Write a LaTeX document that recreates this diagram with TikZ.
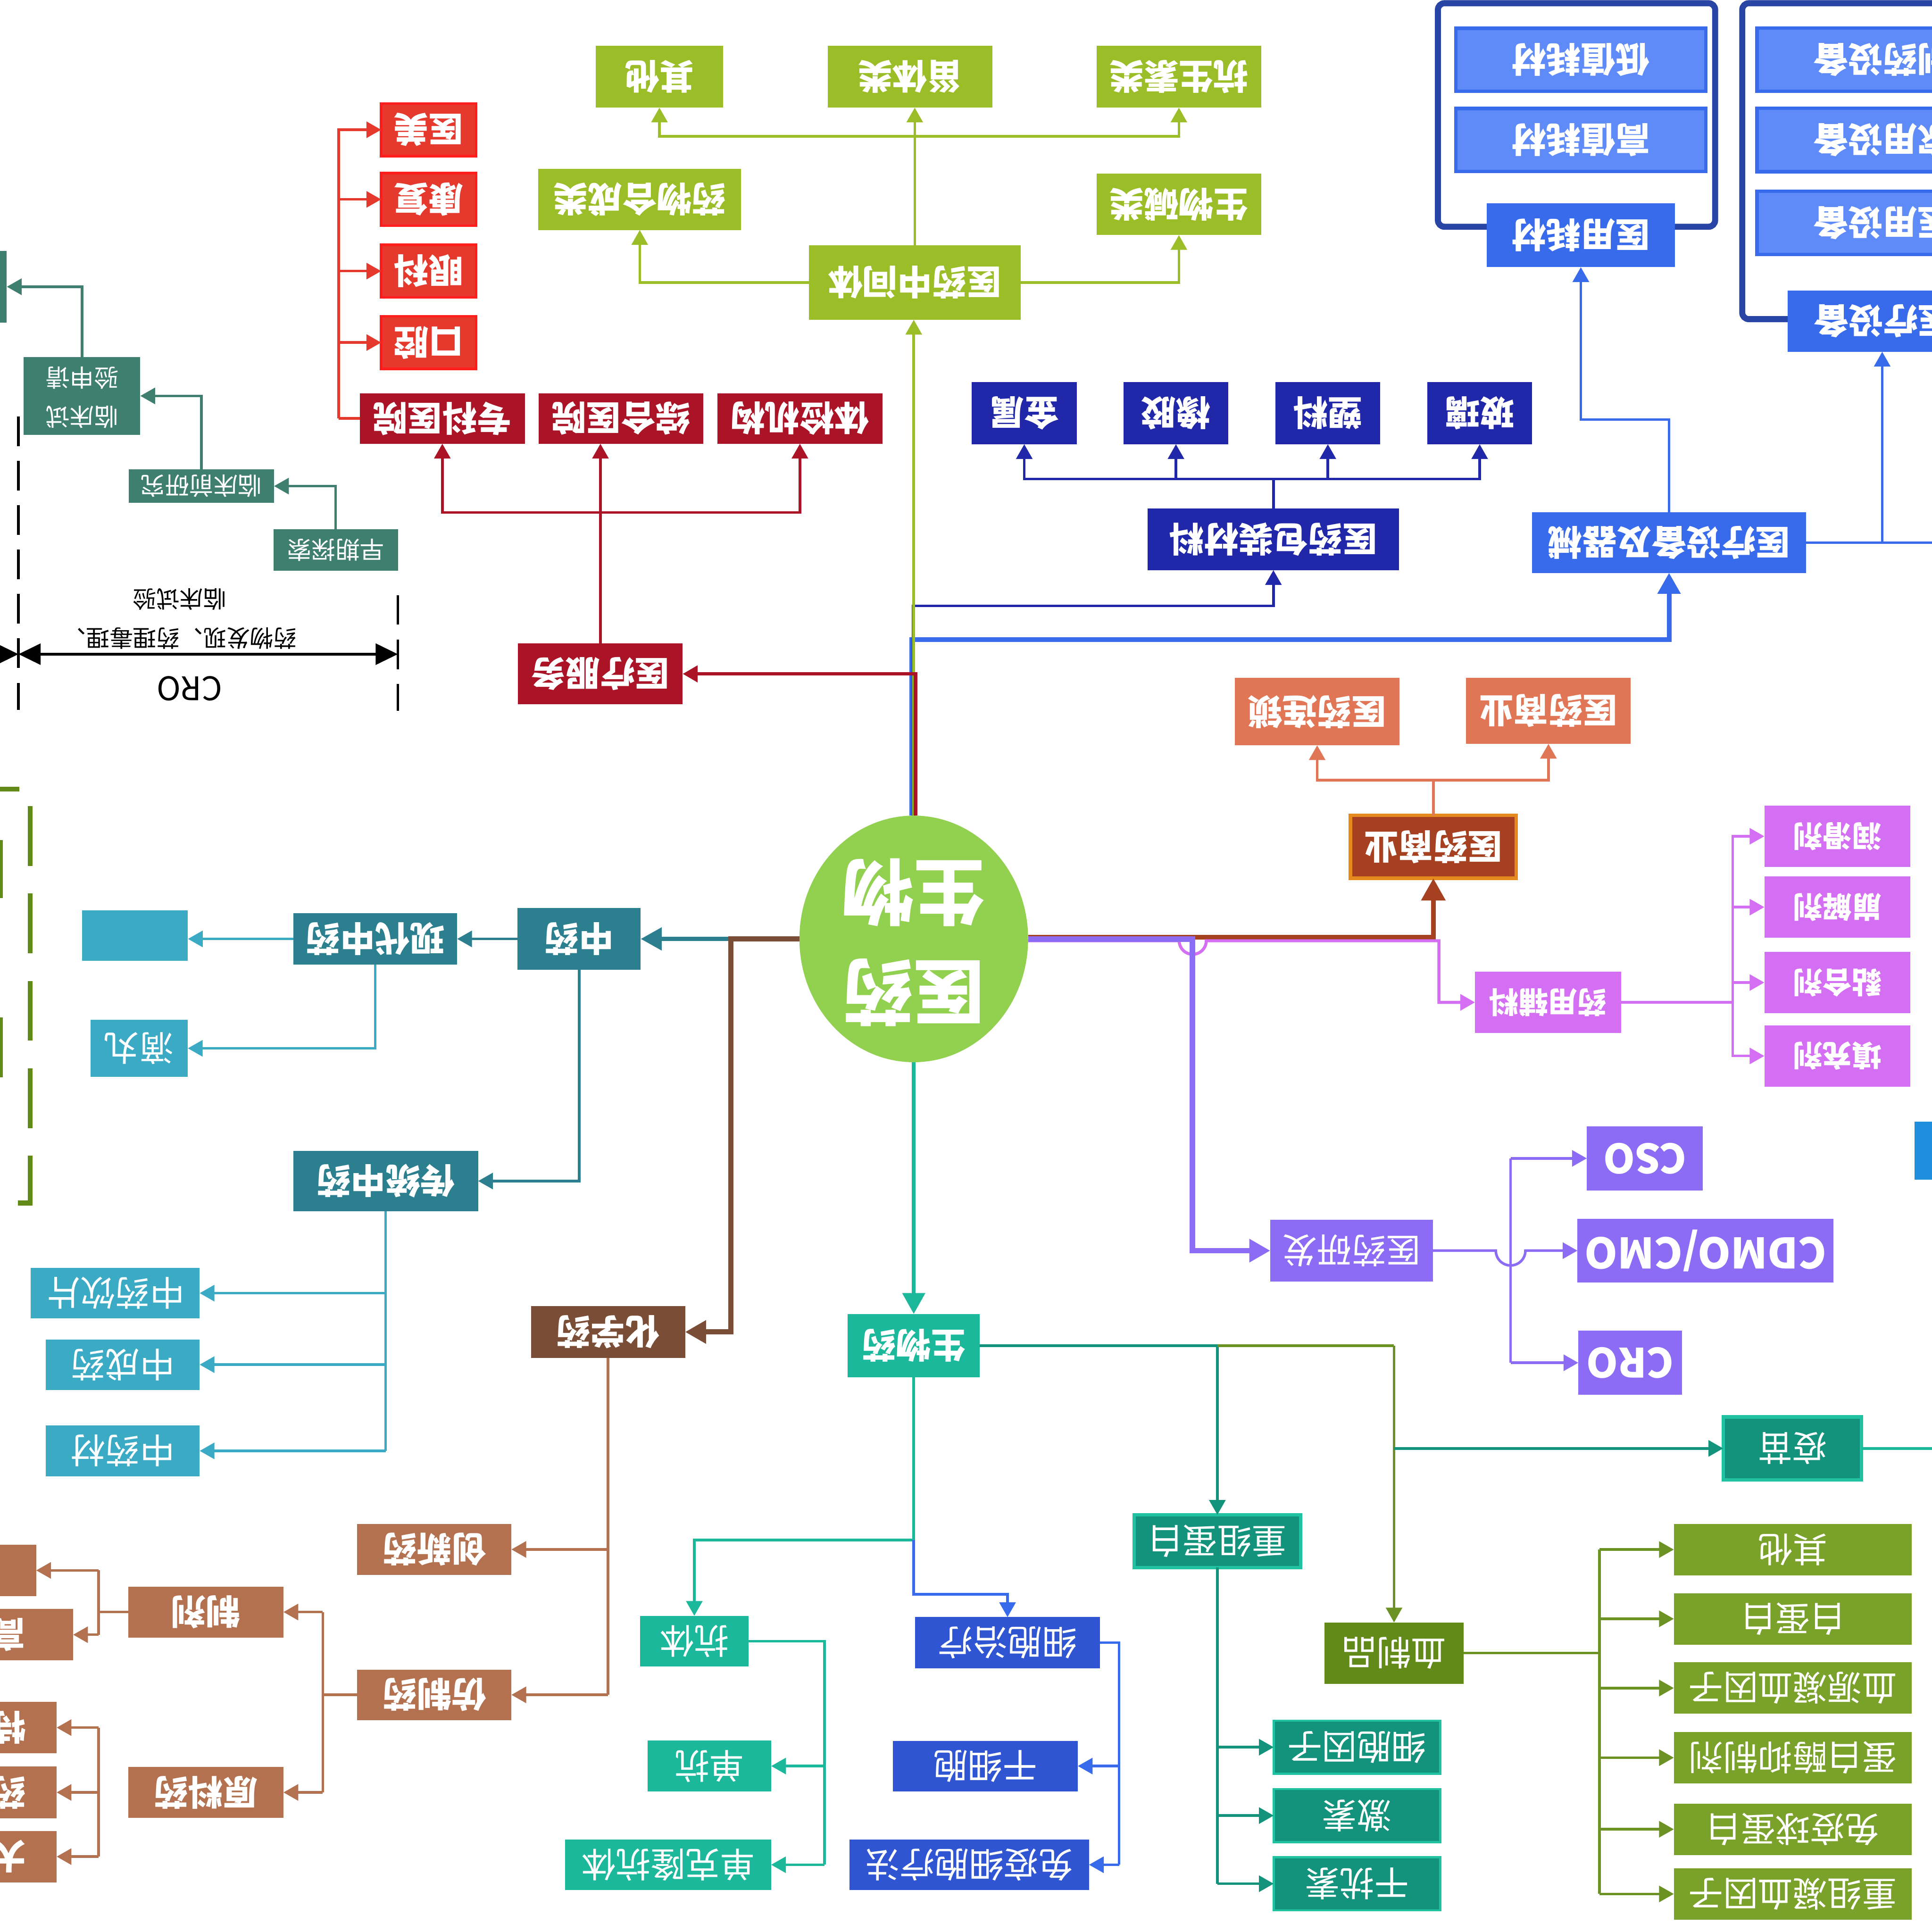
\documentclass[tikz,border=0pt]{standalone}
\usepackage{fontspec}
\setmainfont{Noto Sans CJK SC}
\usepackage{graphicx}
\usetikzlibrary{arrows.meta,shapes.geometric}

% branch colours
\definecolor{ctrgreen}{HTML}{92D050}
\definecolor{midgreen}{HTML}{9BBD28}
\definecolor{svcred}{HTML}{AB1326}
\definecolor{hospred}{HTML}{E5392D}
\definecolor{hospedge}{HTML}{FF1E1E}
\definecolor{packnavy}{HTML}{2127A9}
\definecolor{devblue}{HTML}{386BEB}
\definecolor{devlight}{HTML}{5E8BF7}
\definecolor{devframe}{HTML}{2845A5}
\definecolor{combrick}{HTML}{A54020}
\definecolor{comedge}{HTML}{E48A1E}
\definecolor{comsalmon}{HTML}{E17656}
\definecolor{excviolet}{HTML}{D46FF4}
\definecolor{rdpurple}{HTML}{8D6CF5}
\definecolor{edgeblue}{HTML}{1E8EDD}
\definecolor{bioteal}{HTML}{1BB89B}
\definecolor{biodark}{HTML}{13937B}
\definecolor{bioedge}{HTML}{20C2A2}
\definecolor{bloodolive}{HTML}{618A18}
\definecolor{bloodline}{HTML}{6B9222}
\definecolor{bloodlight}{HTML}{7AA12A}
\definecolor{cellblue}{HTML}{3055D2}
\definecolor{chembrown}{HTML}{7A4D36}
\definecolor{chemtan}{HTML}{B37150}
\definecolor{tcmpetrol}{HTML}{2B7F8E}
\definecolor{tcmcyan}{HTML}{3AAAC5}
\definecolor{crogreen}{HTML}{3F7F6F}

% the whole chart is shown turned upside down
\newcommand{\flip}[1]{\rotatebox[origin=c]{180}{#1}}

\tikzset{
  box/.style={rectangle, inner sep=0pt, outer sep=0pt, text=white,
    font=\bfseries\fontsize{8}{9}\selectfont},
  lite/.style={font=\fontsize{8}{9}\selectfont},
  small/.style={font=\fontsize{5.6}{9}\selectfont},
  sz/.style 2 args={minimum width=#1cm, minimum height=#2cm},
  link/.style={line width=0.6pt},
  tip/.style={-{Triangle[length=0.12cm,width=0.13cm]}},
  bigtip/.style={-{Triangle[length=0.17cm,width=0.18cm]}},
  dimdash/.style={line width=0.6pt, dash pattern=on 0.24cm off 0.12cm},
  dimhead/.tip={Triangle[length=0.18cm,width=0.17cm]},
}

\begin{document}
\begin{tikzpicture}[x=0.01cm, y=0.01cm]
  \useasboundingbox (0,0) rectangle (1568,-1568);
  \clip (0,0) rectangle (1568,-1568);

  % frames behind the device boxes
  \draw[devframe, line width=1.4pt, rounded corners=1.5pt] (1167,-2.6) rectangle (1392,-184);
  \draw[devframe, line width=1.4pt, rounded corners=1.5pt] (1414,-2.6) rectangle (1700,-259);

  % dashed frame at the left edge
  \draw[bloodolive, line width=1.15pt, dash pattern=on 0.485cm off 0.224cm]
    (24.5,-654.2) -- (24.5,-976.4) -- (-100,-976.4);
  \draw[bloodolive, line width=1.15pt, dash pattern=on 0.485cm off 0.224cm, dash phase=0.485cm]
    (24.5,-654.2) -- (24.5,-640.5) -- (-100,-640.5);
  \node[box, fill=bloodolive, sz={0.8}{0.472}] (olive1) at (-37.6,-705.2) {};
  \node[box, fill=bloodolive, sz={0.8}{0.485}] (olive2) at (-37.6,-850.1) {};

  % centre
  \node[ellipse, fill=ctrgreen, minimum width=1.855cm, minimum height=2.0cm, inner sep=0pt,
    outer sep=0pt] (ctr) at (741.6,-762) {};
  \node[text=white, inner sep=0pt, font=\bfseries\fontsize{16.5}{23}\selectfont] (ctrtext)
    at (741.6,-759) {\flip{\begin{tabular}{@{}c@{}}医药\\生物\end{tabular}}};

  % intermediates
  \node[box, fill=midgreen, sz={1.72}{0.606}] (mid) at (742.4,-229.2) {\flip{医药中间体}};
  \node[box, fill=midgreen, sz={1.645}{0.497}] (synth) at (519.2,-161.8) {\flip{药物合成类}};
  \node[box, fill=midgreen, sz={1.335}{0.499}] (alk) at (956.8,-165.8) {\flip{生物碱类}};
  \node[box, fill=midgreen, sz={1.03}{0.502}] (other) at (535.2,-62.2) {\flip{其他}};
  \node[box, fill=midgreen, sz={1.335}{0.502}] (ster) at (738.5,-62.2) {\flip{甾体类}};
  \node[box, fill=midgreen, sz={1.335}{0.502}] (antib) at (956.8,-62.2) {\flip{抗生素类}};
  \coordinate (midj) at (742.4,-110.7);
  \draw[midgreen, link, tip] (mid.west) -| (synth.south);
  \draw[midgreen, link, tip] (mid.east) -| (alk.south);
  \draw[midgreen, link, tip] (mid.north) -- (mid.north |- ster.south);
  \draw[midgreen, link, tip] (midj) -| (other.south);
  \draw[midgreen, link, tip] (midj) -| (antib.south);

  % medical services
  \node[box, fill=svcred, sz={1.335}{0.495}] (svc) at (487.3,-546.9) {\flip{医疗服务}};
  \node[box, fill=svcred, sz={1.34}{0.41}] (spec) at (359,-339.6) {\flip{专科医院}};
  \node[box, fill=svcred, sz={1.335}{0.41}] (genh) at (504.1,-339.6) {\flip{综合医院}};
  \node[box, fill=svcred, sz={1.34}{0.41}] (check) at (649.2,-339.6) {\flip{体检机构}};
  \coordinate (svcj) at (487.3,-415.9);
  \draw[svcred, link] (svc.north) -- (svcj);
  \draw[svcred, link, tip] (svcj) -| (spec.south);
  \draw[svcred, link, tip] (svcj) -- (svcj |- genh.south);
  \draw[svcred, link, tip] (svcj) -| (check.south);
  \foreach \n/\t/\y in {aes/医美/105.3, rehab/康复/161.8, eye/眼科/220, oral/口腔/278}
    \node[box, fill=hospred, draw=hospedge, line width=0.6pt, sz={0.77}{0.426}] (\n) at (347.9,-\y) {\flip{\t}};
  \coordinate (specj) at ([xshift=-0.17cm]spec.west);
  \draw[hospred, link] (spec.west) -- (specj);
  \foreach \n in {aes,rehab,eye,oral}
    \draw[hospred, link, tip] (specj) |- (\n.west);

  % packaging
  \node[box, fill=packnavy, sz={2.04}{0.50}] (pack) at (1033.5,-437.7) {\flip{医药包装材料}};
  \foreach \n/\t/\x in {metal/金属/831.3, rubber/橡胶/954.4, plastic/塑料/1077.7, glass/玻璃/1200.9}
    \node[box, fill=packnavy, sz={0.85}{0.504}] (\n) at (\x,-335.3) {\flip{\t}};
  \coordinate (packj) at ([yshift=0.24cm]pack.north);
  \draw[packnavy, link] (pack.north) -- (packj);
  \foreach \n in {metal,rubber,plastic,glass}
    \draw[packnavy, link, tip] (packj) -| (\n.south);

  % devices
  \node[box, fill=devblue, sz={2.22}{0.49}] (dev) at (1354.6,-440.4) {\flip{医疗设备及器械}};
  \node[box, fill=devblue, sz={1.525}{0.52}] (cons) at (1283,-190.8) {\flip{医用耗材}};
  \node[box, fill=devlight, draw=devblue, line width=0.8pt, sz={2.03}{0.51}] (lowc) at (1283,-48.5) {\flip{低值耗材}};
  \node[box, fill=devlight, draw=devblue, line width=0.8pt, sz={2.03}{0.51}] (highc) at (1283,-113.6) {\flip{高值耗材}};
  \node[box, fill=devblue, sz={1.55}{0.495}] (equip) at (1528.5,-260.7) {\flip{医疗设备}};
  \foreach \n/\t/\y in {pharm/制药设备/48.5, home/家用设备/113.6, hosp/医用设备/180.9}
    \node[box, fill=devlight, draw=devblue, line width=0.8pt, sz={2.04}{0.513}] (\n) at (1528,-\y) {\flip{\t}};
  \coordinate (devj) at (1527.6,-440.4);
  \coordinate (devout) at (1600,-440.4);
  \draw[devblue, link] (dev.east) -- (devout);
  \draw[devblue, link, tip] (devj) -- (devj |- equip.south);
  \draw[devblue, link, tip] (dev.north) -- ++(0,75.4) -| (cons.south);

  % commerce
  \node[box, fill=combrick, draw=comedge, line width=0.8pt, sz={1.346}{0.51}] (com) at (1163.3,-687.3) {\flip{医药商业}};
  \node[box, fill=comsalmon, sz={1.339}{0.547}] (chain) at (1069,-577.5) {\flip{医药连锁}};
  \node[box, fill=comsalmon, sz={1.335}{0.535}] (retail) at (1256.7,-576.9) {\flip{医药商业}};
  \coordinate (comj) at (1163.3,-633.2);
  \draw[comsalmon, link] (com.north) -- (comj);
  \draw[comsalmon, link, tip] (comj) -| (chain.south);
  \draw[comsalmon, link, tip] (comj) -| (retail.south);

  % excipients
  \node[box, fill=excviolet, font=\bfseries\fontsize{6.8}{8}\selectfont, sz={1.185}{0.497}] (exc) at (1256.4,-813.5) {\flip{药用辅料}};
  \foreach \n/\t/\y in {lubr/润滑剂/678.7, disin/崩解剂/736.2, bind/黏合剂/797.4, filler/填充剂/857}
    \node[box, fill=excviolet, font=\bfseries\fontsize{6.8}{8}\selectfont, sz={1.184}{0.498}] (\n) at (1491.2,-\y) {\flip{\t}};
  \coordinate (excj) at ([xshift=0.906cm]exc.east);
  \draw[excviolet, link] (exc.east) -- (excj);
  \foreach \n in {lubr,disin,bind,filler}
    \draw[excviolet, link, tip] (excj) |- (\n.west);

  % research and development
  \node[box, fill=rdpurple, lite, sz={1.32}{0.50}] (rd) at (1097,-1015) {\flip{医药研发}};
  \node[box, fill=rdpurple, font=\bfseries\fontsize{9.3}{11}\selectfont, sz={0.942}{0.52}] (cso) at (1335,-940.1) {\flip{CSO}};
  \node[box, fill=rdpurple, font=\bfseries\fontsize{9.7}{11}\selectfont, sz={2.077}{0.52}] (cdmo) at (1384.2,-1015) {\flip{CDMO/CMO}};
  \node[box, fill=rdpurple, font=\bfseries\fontsize{9.3}{11}\selectfont, sz={0.84}{0.52}] (cro) at (1323,-1106) {\flip{CRO}};
  \node[box, fill=edgeblue, sz={0.9}{0.47}] (edgebox) at (1599,-934) {};
  \coordinate (rdj) at (1226,-1015);
  \draw[rdpurple, link, tip] (rd.east) -- ([xshift=-0.12cm]rdj) arc[start angle=180, end angle=360, radius=0.12cm] -- (cdmo.west);
  \draw[rdpurple, link] (rdj |- cso.west) -- (rdj |- cro.west);
  \draw[rdpurple, link, tip] (rdj |- cso.west) -- (cso.west);
  \draw[rdpurple, link, tip] (rdj |- cro.west) -- (cro.west);

  % biologics
  \node[box, fill=bioteal, sz={1.07}{0.514}] (bio) at (741.6,-1092.1) {\flip{生物药}};
  \node[box, fill=biodark, draw=bioedge, line width=0.8pt, lite, sz={1.122}{0.511}] (vac) at (1454.7,-1175.5) {\flip{疫苗}};
  \node[box, fill=biodark, draw=bioedge, line width=0.8pt, lite, sz={1.349}{0.428}] (recp) at (988,-1250.8) {\flip{重组蛋白}};
  \node[box, fill=bloodolive, lite, sz={1.126}{0.497}] (blood) at (1131.4,-1341.6) {\flip{血制品}};
  \foreach \n/\t/\y in {bo1/其他/1257.6, bo2/白蛋白/1313.8, bo3/血源凝血因子/1370, bo4/蛋白酶抑制剂/1426.5, bo5/免疫球蛋白/1484.6, bo6/重组凝血因子/1537.1}
    \node[box, fill=bloodlight, lite, sz={1.929}{0.417}] (\n) at (1455,-\y) {\flip{\t}};
  \foreach \n/\t/\y in {cyto/细胞因子/1418, horm/激素/1473.5, ifn/干扰素/1528.8}
    \node[box, fill=biodark, draw=bioedge, line width=0.5pt, lite, sz={1.35}{0.43}] (\n) at (1101.3,-\y) {\flip{\t}};
  \node[box, fill=cellblue, lite, sz={1.50}{0.415}] (cellt) at (817.7,-1333.2) {\flip{细胞治疗}};
  \node[box, fill=cellblue, lite, sz={1.50}{0.41}] (stem) at (799.7,-1433.3) {\flip{干细胞}};
  \node[box, fill=cellblue, lite, sz={1.943}{0.41}] (immu) at (786.6,-1513.4) {\flip{免疫细胞疗法}};
  \node[box, fill=bioteal, lite, sz={0.877}{0.412}] (abody) at (563.5,-1332) {\flip{抗体}};
  \node[box, fill=bioteal, lite, sz={1.001}{0.412}] (mab) at (575.8,-1433.3) {\flip{单抗}};
  \node[box, fill=bioteal, lite, sz={1.672}{0.412}] (mab2) at (542.2,-1513.4) {\flip{单克隆抗体}};

  \coordinate (bioj) at (recp.north |- bio.east);
  \coordinate (bioj2) at (blood.north |- bio.east);
  \coordinate (vacj) at (bioj2 |- vac.west);
  \coordinate (vacout) at (1600,-1175.5);
  \coordinate (biod) at ([yshift=-1.319cm]bio.south);
  \draw[biodark, link] (bio.east) -- (bioj);
  \draw[biodark, link, tip] (bioj) -- (recp.north);
  \draw[bloodline, link] (bioj) -- (bioj2);
  \draw[bloodline, link, tip] (bioj2) -- (blood.north);
  \draw[biodark, link, tip] (vacj) -- (vac.west);
  \draw[bioteal, link] (vac.east) -- (vacout);
  \draw[bioteal, link] (bio.south) -- (biod);
  \draw[bioteal, link, tip] (biod) -| (abody.north);
  \draw[devblue, link, tip] (biod) -- ++(0,-44) -| (cellt.north);
  % blood products
  \coordinate (bloodj) at ([xshift=1.104cm]blood.east);
  \draw[bloodline, link] (blood.east) -- (bloodj);
  \draw[bloodline, link] (bloodj |- bo1.west) -- (bloodj |- bo6.west);
  \foreach \n in {bo1,bo2,bo3,bo4,bo5,bo6}
    \draw[bloodline, link, tip] (bloodj |- \n.west) -- (\n.west);
  % recombinant proteins
  \draw[biodark, link] (recp.south) -- (recp.south |- ifn.west);
  \foreach \n in {cyto,horm,ifn}
    \draw[biodark, link, tip] (recp.south |- \n.west) -- (\n.west);
  % cell therapy
  \coordinate (cellj) at ([xshift=0.155cm]cellt.east);
  \draw[devblue, link] (cellt.east) -- (cellj) -- (cellj |- immu.east);
  \foreach \n in {stem,immu}
    \draw[devblue, link, tip] (cellj |- \n.east) -- (\n.east);
  % antibodies
  \coordinate (abj) at ([xshift=0.618cm]abody.east);
  \draw[bioteal, link] (abody.east) -- (abj) -- (abj |- mab2.east);
  \foreach \n in {mab,mab2}
    \draw[bioteal, link, tip] (abj |- \n.east) -- (\n.east);

  % traditional chinese medicine
  \node[box, fill=tcmpetrol, sz={1.0}{0.50}] (tcm) at (470,-762) {\flip{中药}};
  \node[box, fill=tcmpetrol, sz={1.33}{0.42}] (modern) at (304.5,-762) {\flip{现代中药}};
  \node[box, fill=tcmpetrol, sz={1.50}{0.49}] (trad) at (313,-958.5) {\flip{传统中药}};
  \node[box, fill=tcmcyan, sz={0.86}{0.41}] (blank) at (109.5,-759.3) {};
  \node[box, fill=tcmcyan, lite, sz={0.79}{0.463}] (pill) at (112.9,-850.8) {\flip{滴丸}};
  \node[box, fill=tcmcyan, lite, sz={1.37}{0.41}] (slice) at (93.5,-1049.5) {\flip{中药饮片}};
  \node[box, fill=tcmcyan, lite, sz={1.25}{0.41}] (patent) at (99.5,-1107.5) {\flip{中成药}};
  \node[box, fill=tcmcyan, lite, sz={1.25}{0.41}] (herb) at (99.5,-1177.5) {\flip{中药材}};
  \draw[tcmpetrol, line width=0.9pt, bigtip] (ctr.west) -- (tcm.east);
  \draw[tcmpetrol, link, tip] (tcm.west) -- (modern.east);
  \draw[tcmpetrol, link, tip] (tcm.south) |- (trad.east);
  \draw[tcmcyan, link, tip] (modern.west) -- (modern.west -| blank.east);
  \draw[tcmcyan, link, tip] (modern.south) |- (pill.east);
  \draw[tcmcyan, link] (trad.south) -- (trad.south |- herb.east);
  \foreach \n in {slice,patent,herb}
    \draw[tcmcyan, link, tip] (trad.south |- \n.east) -- (\n.east);

  % chemical drugs
  \node[box, fill=chembrown, sz={1.25}{0.42}] (chem) at (493.5,-1081) {\flip{化学药}};
  \node[box, fill=chemtan, sz={1.25}{0.41}] (innov) at (352.5,-1257.5) {\flip{创新药}};
  \node[box, fill=chemtan, sz={1.25}{0.41}] (gener) at (352.5,-1375.5) {\flip{仿制药}};
  \node[box, fill=chemtan, sz={1.26}{0.413}] (prep) at (167,-1308.3) {\flip{制剂}};
  \node[box, fill=chemtan, sz={1.26}{0.415}] (api) at (167,-1454.7) {\flip{原料药}};
  \node[box, fill=chemtan, sz={1.9}{0.416}] (prep1) at (-65.7,-1274.5) {\flip{普通制剂}};
  \node[box, fill=chemtan, sz={1.9}{0.418}] (prep2) at (-35.7,-1326.7) {\flip{高端制剂}};
  \foreach \n/\t/\y in {api1/特色原料药/1402.1, api2/药用原料药/1454.7, api3/大宗原料药/1506.8}
    \node[box, fill=chemtan, sz={1.9}{0.418}] (\n) at (-49.1,-\y) {\flip{\t}};
  \draw[chembrown, line width=1.2pt, bigtip] (ctr.west) -| ([xshift=0.37cm]chem.east) -- (chem.east);
  \draw[chemtan, link] (chem.south) -- (chem.south |- gener.east);
  \foreach \n in {innov,gener}
    \draw[chemtan, link, tip] (chem.south |- \n.east) -- (\n.east);
  \coordinate (generj) at ([xshift=-0.28cm]gener.west);
  \draw[chemtan, link] (gener.west) -- (generj);
  \draw[chemtan, link] (generj |- prep.east) -- (generj |- api.east);
  \foreach \n in {prep,api}
    \draw[chemtan, link, tip] (generj |- \n.east) -- (\n.east);
  \coordinate (prepj) at ([xshift=-0.24cm]prep.west);
  \draw[chemtan, link] (prep.west) -- (prepj);
  \draw[chemtan, link] (prepj |- prep1.east) -- (prepj |- prep2.east);
  \foreach \n in {prep1,prep2}
    \draw[chemtan, link, tip] (prepj |- \n.east) -- (\n.east);
  \coordinate (apij) at ([xshift=-0.24cm]api.west);
  \draw[chemtan, link] (apij |- api1.east) -- (apij |- api3.east);
  \foreach \n in {api1,api2,api3}
    \draw[chemtan, link, tip] (apij |- \n.east) -- (\n.east);

  % CRO stages
  \node[box, fill=crogreen, small, sz={1.01}{0.334}] (early) at (272.4,-446.3) {\flip{早期探索}};
  \node[box, fill=crogreen, small, sz={1.177}{0.27}] (precl) at (163.5,-394.5) {\flip{临床前研究}};
  \node[box, fill=crogreen, small, sz={0.945}{0.585}] (ind) at (66.6,-321.3)
    {\flip{\begin{tabular}{@{}c@{}}临床试\\验申请\end{tabular}}};
  \node[box, fill=crogreen, sz={0.85}{0.58}] (nda) at (-37,-232.7) {};
  \draw[crogreen, link, tip] (early.north) |- (precl.east);
  \draw[crogreen, link, tip] (precl.north) |- (ind.east);
  \draw[crogreen, link, tip] (ind.north) |- (nda.east);

  % span of the CRO work
  \coordinate (dimL) at (-60,-530.9);
  \coordinate (dimA) at (15,-530.9);
  \coordinate (dimB) at (322.9,-530.9);
  \draw[dimdash] (15,-338) -- (15,-576);
  \draw[dimdash] (322.9,-483) -- (322.9,-577);
  \draw[line width=0.6pt, dimhead-dimhead] (dimA) -- (dimB);
  \draw[line width=0.6pt, -dimhead] (dimL) -- (dimA);
  \node[font=\fontsize{5.4}{9}\selectfont] (dimtext) at (146,-501.4)
    {\flip{\begin{tabular}{@{}c@{}}药物发现、药理毒理、\\临床试验\end{tabular}}};
  \node[font=\fontsize{7.5}{9}\selectfont] (dimcro) at (153.8,-558.8) {\flip{CRO}};

  % links out of the centre
  \draw[devblue, line width=1.1pt, bigtip] ([xshift=-0.015cm]ctr.north) |- ([yshift=-0.54cm]dev.south) -- (dev.south);
  \draw[packnavy, link, tip] ([xshift=-0.005cm]ctr.north) |- ([yshift=-0.29cm]pack.south) -- (pack.south);
  \draw[midgreen, link, tip] (ctr.north) -- (ctr.north |- mid.south);
  \draw[svcred, line width=0.8pt, tip] ([xshift=0.015cm]ctr.north) |- (svc.east);
  \draw[combrick, line width=1.1pt, -{Triangle[length=0.18cm,width=0.19cm]}] ([yshift=0.015cm]ctr.east) -| (com.south);
  \coordinate (hopA) at (957,-763.5);
  \coordinate (excturn) at ([xshift=-0.293cm]exc.west);
  \draw[excviolet, line width=0.7pt, tip] ([yshift=-0.015cm]ctr.east) -- (hopA)
    arc[start angle=180, end angle=360, radius=0.11cm] -- (excturn |- hopA) -- (excturn) -- (exc.west);
  \coordinate (rdturn) at ([xshift=-0.63cm]rd.west);
  \draw[rdpurple, line width=1.3pt, bigtip] (ctr.east) -| (rdturn) -- (rd.west);
  \draw[bioteal, line width=0.9pt, bigtip] (ctr.south) -- (ctr.south |- bio.north);
\end{tikzpicture}
\end{document}
